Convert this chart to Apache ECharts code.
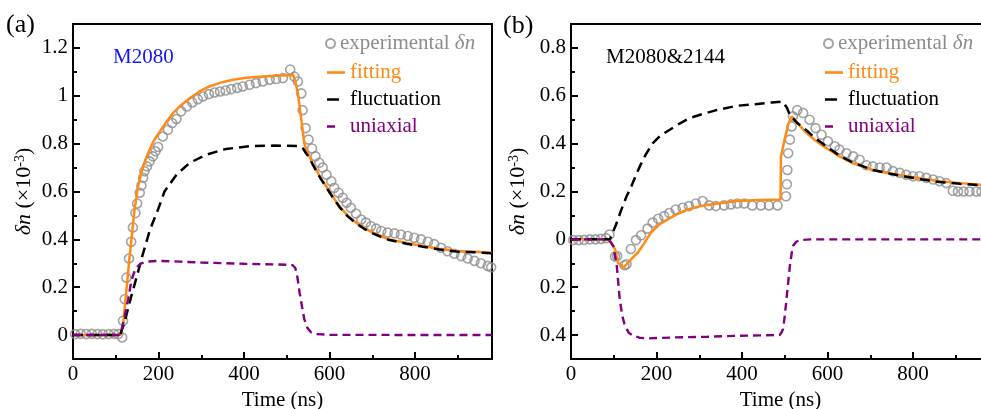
<!DOCTYPE html>
<html><head><meta charset="utf-8">
<script src="https://cdn.jsdelivr.net/npm/echarts@6/dist/echarts.min.js"></script>
<style>html,body{margin:0;padding:0;background:#fff}#c{width:981px;height:409px}</style>
</head><body><div id="c"></div>
<script>
// ---- tick values ----
const xMajorTicks = [0, 200, 400, 600, 800];
const xMinorTicks = [100, 300, 500, 700, 900];
const yTicksA = [0, 0.2, 0.4, 0.6, 0.8, 1.0, 1.2];
const yMinorA = [0.1, 0.3, 0.5, 0.7, 0.9, 1.1];
const yTicksB = [-0.4, -0.2, 0, 0.2, 0.4, 0.6, 0.8];
const yMinorB = [-0.3, -0.1, 0.1, 0.3, 0.5, 0.7];

// ---- panel (a) M2080 ----
const expA = [[5,0.004],[18,0.005],[31,0.004],[44,0.005],[57,0.004],[70,0.003],[83,0.004],[96,0.005],[106,0.004],
[115,-0.01],[117,0.06],[121,0.15],[125,0.24],[131,0.32],[136,0.39],[140,0.45],[146,0.51],[150,0.55],[156,0.595],
[160,0.625],[164,0.657],[167,0.685],[173,0.705],[179,0.726],[187,0.747],[193,0.768],[199,0.786],[210,0.83],[222,0.858],
[232,0.886],[242,0.903],[253,0.935],[266,0.955],[279,0.972],[292,0.986],[304,0.997],[318,1.007],[331,1.014],[344,1.018],
[357,1.022],[370,1.028],[384,1.033],[397,1.039],[413,1.046],[428,1.053],[444,1.06],[460,1.067],[475,1.07],[491,1.074],
[508,1.11],[518,1.08],[526,1.06],[534,1.01],[537,0.94],[544,0.865],[551,0.817],[559,0.78],[567,0.747],[576,0.72],
[584,0.70],[593,0.67],[604,0.643],[611,0.615],[621,0.595],[631,0.574],[640,0.553],[650,0.532],[662,0.508],[674,0.483],
[685,0.47],[697,0.455],[709,0.445],[721,0.435],[736,0.428],[752,0.425],[767,0.42],[783,0.414],[798,0.407],[814,0.40],
[830,0.39],[845,0.38],[861,0.365],[876,0.35],[892,0.34],[908,0.33],[923,0.32],[939,0.31],[954,0.30],[970,0.289],[978,0.283]];
const fitA = [[0,0],[110,0],[117,0.04],[132,0.32],[144,0.525],[152,0.62],[160,0.68],[170,0.735],[179,0.775],[190,0.815],
[203,0.85],[218,0.89],[234,0.928],[252,0.96],[273,0.99],[295,1.017],[319,1.039],[345,1.055],[374,1.067],[405,1.075],
[436,1.08],[475,1.084],[515,1.087],[520,1.06],[526,1.01],[534,0.90],[541,0.80],[547,0.77],[553,0.747],[560,0.72],
[569,0.69],[580,0.655],[592,0.622],[607,0.58],[623,0.539],[642,0.50],[662,0.47],[681,0.447],[701,0.428],[720,0.413],
[740,0.40],[780,0.385],[818,0.372],[857,0.361],[896,0.351],[940,0.348],[980,0.344]];
const flucA = [[0,0],[110,0],[120,0.05],[136,0.16],[150,0.25],[162,0.33],[180,0.44],[200,0.53],[214,0.60],[242,0.67],
[273,0.72],[312,0.754],[358,0.778],[413,0.789],[470,0.792],[530,0.79],[538,0.78],[545,0.76],[553,0.74],[560,0.715],
[569,0.686],[580,0.652],[592,0.619],[607,0.577],[623,0.536],[642,0.497],[662,0.467],[681,0.444],[701,0.425],[720,0.41],
[740,0.397],[780,0.382],[818,0.369],[857,0.358],[896,0.349],[940,0.346],[980,0.342]];
const uniA = [[0,0],[108,0],[113,0.018],[121,0.08],[129,0.15],[135,0.21],[140,0.247],[146,0.275],[152,0.289],[160,0.30],
[171,0.307],[203,0.31],[250,0.307],[300,0.303],[400,0.298],[500,0.294],[514,0.292],[520,0.28],[525,0.24],[530,0.178],
[536,0.115],[541,0.067],[548,0.03],[557,0.011],[569,0.004],[600,0.001],[980,0]];

// ---- panel (b) M2080&2144 ----
const expB = [[5,-0.003],[18,-0.003],[31,-0.002],[44,0],[57,0],[70,0.002],[82,0.005],[90,0.02],[103,-0.072],[108,-0.07],
[125,-0.108],[130,-0.104],[140,-0.04],[152,-0.003],[164,0.017],[179,0.045],[191,0.07],[204,0.086],[218,0.097],[230,0.11],
[245,0.125],[261,0.132],[276,0.139],[292,0.15],[308,0.16],[323,0.142],[339,0.139],[358,0.142],[374,0.146],[389,0.15],
[405,0.15],[424,0.142],[444,0.142],[463,0.142],[483,0.142],[503,0.18],[505,0.23],[506,0.29],[508,0.36],[512,0.417],
[516,0.472],[519,0.514],[529,0.54],[543,0.528],[558,0.50],[572,0.465],[586,0.437],[601,0.41],[617,0.389],[628,0.375],
[644,0.36],[660,0.347],[675,0.333],[691,0.31],[706,0.305],[722,0.30],[738,0.30],[753,0.285],[769,0.278],[784,0.27],
[800,0.264],[815,0.264],[831,0.257],[847,0.25],[862,0.243],[878,0.235],[893,0.203],[905,0.20],[918,0.20],[932,0.20],
[948,0.20],[960,0.20]];
const fitB = [[0,0],[85,0],[93,-0.01],[103,-0.042],[110,-0.097],[122,-0.118],[135,-0.095],[145,-0.075],[156,-0.056],
[170,-0.02],[187,0.028],[205,0.06],[226,0.083],[250,0.107],[273,0.125],[300,0.138],[327,0.146],[360,0.154],[389,0.16],
[440,0.164],[490,0.167],[491,0.345],[500,0.42],[508,0.48],[516,0.514],[524,0.50],[535,0.475],[551,0.444],[570,0.415],
[590,0.389],[610,0.367],[628,0.347],[660,0.318],[706,0.29],[745,0.275],[784,0.264],[822,0.253],[862,0.243],[910,0.235],
[960,0.228],[980,0.225]];
const flucB = [[0,0],[91,0],[105,0.06],[118,0.125],[130,0.18],[138,0.208],[150,0.26],[161,0.305],[175,0.355],[192,0.403],
[210,0.435],[231,0.458],[255,0.485],[278,0.507],[310,0.525],[340,0.54],[387,0.558],[430,0.565],[470,0.572],[495,0.576],
[505,0.55],[512,0.52],[530,0.485],[551,0.455],[570,0.425],[590,0.398],[610,0.372],[628,0.35],[660,0.32],[706,0.29],
[745,0.275],[784,0.262],[822,0.25],[862,0.24],[910,0.232],[960,0.226],[980,0.223]];
const uniB = [[0,0],[88,0],[99,-0.028],[107,-0.11],[114,-0.25],[120,-0.32],[126,-0.36],[135,-0.39],[146,-0.403],[160,-0.411],
[177,-0.414],[239,-0.41],[320,-0.407],[387,-0.403],[488,-0.40],[492,-0.39],[496,-0.375],[500,-0.32],[504,-0.25],[508,-0.18],
[512,-0.11],[516,-0.06],[519,-0.028],[527,-0.01],[535,-0.003],[560,0],[980,0]];

const FONT = "'Liberation Serif','Times New Roman',serif";
const GRAY = '#8c8c8c', ORANGE = '#ff8a14', PURPLE = '#800080', BLUE = '#1414ff';
const FS = 21;

function fmt(v){ return String(Math.abs(+(+v).toFixed(1))); }

function xAxes(grid){
  return [
    {type:'value', gridIndex:grid, min:0, max:980, position:'bottom',
     axisLine:{show:true, onZero:false, lineStyle:{color:'#000', width:2}},
     axisTick:{show:true, inside:true, length:7, customValues:xMajorTicks, lineStyle:{color:'#000', width:2}},
     axisLabel:{customValues:xMajorTicks, color:'#000', fontFamily:FONT, fontSize:FS, margin:5},
     splitLine:{show:false},
     name:'Time (ns)', nameLocation:'middle', nameGap:25,
     nameTextStyle:{color:'#000', fontFamily:FONT, fontSize:FS}},
    {type:'value', gridIndex:grid, min:0, max:980, position:'bottom',
     axisLine:{show:false, onZero:false},
     axisTick:{show:true, inside:true, length:4, customValues:xMinorTicks, lineStyle:{color:'#000', width:2}},
     axisLabel:{show:false}, splitLine:{show:false}}
  ];
}
function yAxes(grid, mn, mx, major, minor, gap){
  return [
    {type:'value', gridIndex:grid, min:mn, max:mx, position:'left',
     axisLine:{show:true, onZero:false, lineStyle:{color:'#000', width:2}},
     axisTick:{show:true, inside:true, length:7, customValues:major, lineStyle:{color:'#000', width:2}},
     axisLabel:{customValues:major, color:'#000', fontFamily:FONT, fontSize:FS, margin:5, formatter:fmt},
     splitLine:{show:false},
     name:'{i|δn} (×10{s|-3})', nameLocation:'middle', nameGap:gap,
     nameTextStyle:{color:'#000', fontFamily:FONT, fontSize:22,
       rich:{i:{fontStyle:'italic', fontFamily:FONT, fontSize:22, color:'#000'},
             s:{fontFamily:FONT, fontSize:14, verticalAlign:'top', color:'#000'}}}},
    {type:'value', gridIndex:grid, min:mn, max:mx, position:'left',
     axisLine:{show:false, onZero:false},
     axisTick:{show:true, inside:true, length:4, customValues:minor, lineStyle:{color:'#000', width:2}},
     axisLabel:{show:false}, splitLine:{show:false}}
  ];
}
function seriesFor(xi, yi, exp, fit, fluc, uni){
  return [
    {name:'experimental', type:'scatter', xAxisIndex:xi, yAxisIndex:yi, data:exp, symbol:'circle', symbolSize:9,
     itemStyle:{color:'rgba(255,255,255,0)', borderColor:GRAY, borderWidth:1.6}, z:2},
    {name:'fitting', type:'line', xAxisIndex:xi, yAxisIndex:yi, data:fit, showSymbol:false, symbol:'none',
     itemStyle:{color:ORANGE}, lineStyle:{color:ORANGE, width:2.5}, z:3},
    {name:'fluctuation', type:'line', xAxisIndex:xi, yAxisIndex:yi, data:fluc, showSymbol:false, symbol:'none',
     itemStyle:{color:'#000'}, lineStyle:{color:'#000', width:2.5, type:[10,6]}, z:4},
    {name:'uniaxial', type:'line', xAxisIndex:xi, yAxisIndex:yi, data:uni, showSymbol:false, symbol:'none',
     itemStyle:{color:PURPLE}, lineStyle:{color:PURPLE, width:2.4, type:[8,5]}, z:5}
  ];
}
function legends(expLeft, lineLeft){
  return [
    {show:true, orient:'vertical', left:expLeft, top:33, itemWidth:9, itemHeight:9, padding:0, selectedMode:false,
     data:[{name:'experimental', icon:'circle'}],
     formatter:()=>'{e|experimental }{ei|δn}',
     textStyle:{color:GRAY, fontFamily:FONT, fontSize:FS,
       rich:{e:{color:GRAY, fontFamily:FONT, fontSize:FS}, ei:{color:GRAY, fontFamily:FONT, fontSize:FS, fontStyle:'italic'}}}},
    {show:true, orient:'vertical', left:lineLeft, top:62, itemWidth:18, itemHeight:10, itemGap:6, padding:0, selectedMode:false,
     data:[
       {name:'fitting', icon:'path://M0,0H18V2.6H0Z', textStyle:{color:ORANGE}},
       {name:'fluctuation', icon:'path://M0,0H12V2.6H0ZM18,0L18,2.6Z', textStyle:{color:'#000'}},
       {name:'uniaxial', icon:'path://M0,0H8V2.6H0ZM18,0L18,2.6Z', textStyle:{color:PURPLE}}
     ],
     textStyle:{fontFamily:FONT, fontSize:FS}}
  ];
}

const chart = echarts.init(document.getElementById('c'), null, {renderer:'canvas'});
chart.setOption({
  animation:false,
  backgroundColor:'#fff',
  title:[
    {text:'(a)', left:6, top:12, padding:0, textStyle:{fontFamily:FONT, fontSize:26, fontWeight:'normal', color:'#000'}},
    {text:'(b)', left:503, top:13, padding:0, textStyle:{fontFamily:FONT, fontSize:26, fontWeight:'normal', color:'#000'}},
    {text:'M2080', left:113, top:47, padding:0, textStyle:{fontFamily:FONT, fontSize:FS, fontWeight:'normal', color:BLUE}},
    {text:'M2080&2144', left:606, top:47, padding:0, textStyle:{fontFamily:FONT, fontSize:FS, fontWeight:'normal', color:'#000'}}
  ],
  grid:[
    {left:73, top:24, width:419, height:335, outerBoundsMode:'none', containLabel:false, show:true, borderColor:'#000', borderWidth:2, backgroundColor:'transparent'},
    {left:571, top:24, width:419, height:335, outerBoundsMode:'none', containLabel:false, show:true, borderColor:'#000', borderWidth:2, backgroundColor:'transparent'}
  ],
  legend:[].concat(legends(325, 327), legends(823, 825)),
  xAxis:[].concat(xAxes(0), xAxes(1)),
  yAxis:[].concat(yAxes(0, -0.1, 1.3, yTicksA, yMinorA, 38), yAxes(1, -0.5, 0.9, yTicksB, yMinorB, 42)),
  series:[].concat(seriesFor(0, 0, expA, fitA, flucA, uniA), seriesFor(2, 2, expB, fitB, flucB, uniB))
});
</script></body></html>
